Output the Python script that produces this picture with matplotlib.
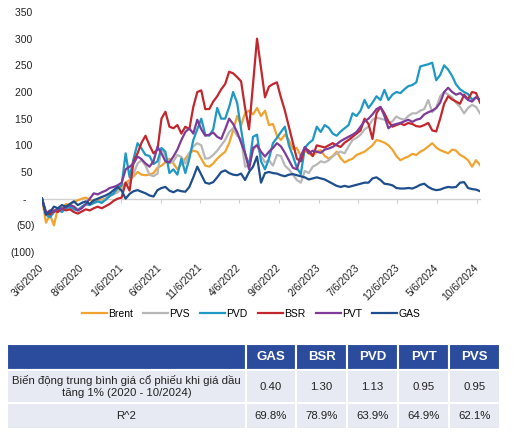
import matplotlib
matplotlib.use("Agg")
import matplotlib.pyplot as plt
import pandas as pd

plt.rcParams["font.family"] = ["Liberation Sans", "DejaVu Sans"]

# --- du lieu (doc tu bieu do, % thay doi tu 3/6/2020, ~2 diem/thang) ---
start_date = "2020-03-06"
end_date = "2024-10-19"
n_points = 111

brent = [0, -45, -30, -50, -18, -20, -10, -12, -6, -3, 0, 2, -2, -5, -3, -2, 0, 5, 10, 18,
         22, 30, 35, 42, 50, 45, 44, 45, 48, 58, 62, 68, 75, 66, 55, 65, 75, 85, 90, 88,
         75, 62, 60, 66, 75, 82, 88, 104, 128, 155, 138, 160, 165, 158, 170, 155, 165, 138, 140, 118,
         110, 120, 110, 93, 95, 80, 90, 85, 80, 88, 91, 80, 75, 80, 88, 76, 68, 72, 75, 82,
         85, 88, 94, 100, 110, 108, 105, 100, 92, 80, 72, 76, 79, 84, 82, 88, 92, 98, 104, 96,
         91, 88, 85, 92, 90, 82, 78, 72, 60, 72, 63]
pvs = [0, -28, -30, -22, -20, -18, -15, -18, -14, -20, -16, -12, -10, -8, -6, -5, 0, 5, 8, 12,
       18, 25, 30, 47, 66, 72, 62, 45, 42, 47, 95, 80, 66, 70, 82, 78, 66, 85, 98, 104,
       100, 75, 76, 82, 90, 100, 110, 125, 132, 118, 112, 60, 62, 90, 102, 80, 68, 72, 62, 82,
       80, 62, 55, 45, 35, 30, 52, 48, 60, 64, 70, 68, 72, 79, 85, 88, 85, 98, 110, 114,
       120, 130, 135, 148, 152, 150, 148, 142, 145, 154, 150, 148, 155, 160, 160, 165, 168, 185, 162, 170,
       192, 200, 195, 190, 180, 172, 160, 170, 176, 172, 160]
pvd = [0, -30, -35, -25, -20, -25, -18, -15, -20, -22, -15, -10, -12, -8, -5, -8, -2, 5, 10, 20,
       25, 85, 40, 75, 104, 94, 82, 80, 65, 70, 95, 88, 48, 55, 45, 75, 48, 75, 110, 130,
       150, 120, 118, 130, 170, 150, 150, 172, 200, 180, 130, 85, 62, 116, 120, 70, 55, 75, 104, 114,
       125, 135, 100, 80, 58, 46, 95, 104, 110, 135, 125, 138, 133, 122, 118, 126, 132, 138, 160, 155,
       165, 185, 170, 180, 192, 185, 204, 185, 195, 200, 198, 205, 211, 213, 218, 248, 250, 252, 255, 222,
       232, 250, 242, 230, 214, 205, 200, 196, 186, 190, 186]
bsr = [0, -25, -30, -22, -25, -18, -22, -20, -25, -28, -24, -20, -22, -18, -15, -18, -14, -10, -4, 0,
       2, 30, 15, 70, 85, 105, 118, 100, 85, 92, 150, 163, 135, 132, 138, 122, 135, 130, 172, 200,
       203, 168, 168, 182, 192, 205, 215, 238, 235, 228, 220, 170, 130, 215, 300, 245, 190, 210, 215, 218,
       190, 165, 135, 105, 75, 70, 95, 90, 80, 100, 98, 96, 100, 104, 100, 97, 105, 110, 116, 122,
       128, 150, 140, 112, 160, 172, 160, 145, 135, 138, 141, 138, 142, 140, 136, 135, 138, 142, 128, 126,
       150, 178, 192, 186, 182, 178, 195, 186, 200, 198, 180]
pvt = [0, -28, -22, -25, -18, -20, -15, -12, -15, -22, -18, -10, 0, 10, 8, 12, 15, 20, 22, 25,
       30, 55, 60, 66, 79, 74, 66, 60, 70, 97, 85, 70, 68, 79, 92, 110, 125, 132, 122, 148,
       130, 118, 120, 124, 116, 112, 130, 150, 140, 125, 105, 85, 55, 95, 100, 88, 79, 88, 95, 104,
       98, 86, 72, 58, 55, 80, 97, 85, 90, 88, 86, 92, 94, 97, 102, 108, 112, 116, 120, 125,
       135, 145, 150, 158, 168, 172, 155, 132, 138, 140, 142, 145, 148, 144, 148, 150, 158, 162, 165, 170,
       180, 200, 208, 200, 195, 198, 192, 185, 182, 190, 185]
gas = [0, -30, -25, -15, -18, -12, -15, -10, -5, -12, -8, -5, -10, -3, 0, 3, 6, 10, 16, 22,
       15, 0, 9, 14, 16, 13, 10, 6, 4, 16, 20, 22, 15, 12, 16, 14, 13, 22, 40, 60,
       45, 30, 28, 31, 40, 50, 53, 48, 45, 44, 47, 35, 50, 60, 79, 30, 48, 50, 48, 47,
       44, 42, 45, 46, 44, 42, 40, 36, 38, 40, 38, 36, 32, 28, 24, 22, 24, 22, 24, 26,
       28, 30, 30, 38, 40, 35, 28, 27, 25, 20, 19, 19, 20, 19, 22, 26, 28, 22, 18, 16,
       17, 20, 22, 21, 22, 30, 31, 20, 18, 17, 14]

series_names = ["Brent", "PVS", "PVD", "BSR", "PVT", "GAS"]
series_colors = ["#F2A32F", "#B7B7B7", "#1E98C4", "#C1272D", "#7E3C98", "#1F4E8C"]

ytick_values = [-100, -50, 0, 50, 100, 150, 200, 250, 300, 350]
ytick_labels = ["(100)", "(50)", "-   ", "50 ", "100 ", "150 ", "200 ", "250 ", "300 ", "350 "]

# bang he so
table_cols = ["", "GAS", "BSR", "PVD", "PVT", "PVS"]
row_beta_label = "Biến động trung bình giá cổ phiếu khi giá dầu\ntăng 1% (2020 - 10/2024)"
row_beta = ["0.40", "1.30", "1.13", "0.95", "0.95"]
row_r2_label = "R^2"
row_r2 = ["69.8%", "78.9%", "63.9%", "64.9%", "62.1%"]

# --- ve ---
dates = pd.date_range(start_date, end_date, periods=n_points)
tick_dates = [pd.Timestamp(start_date) + pd.DateOffset(months=5 * k) for k in range(12)]
tick_labels = [f"{d.month}/{d.day}/{d.year}" for d in tick_dates]

fs = 7.5
fig = plt.figure(figsize=(5.22, 4.34), dpi=100)
ax = fig.add_axes([42 / 522, 1 - 252 / 434, 438 / 522, 240 / 434])

for name, vals, col in zip(series_names, [brent, pvs, pvd, bsr, pvt, gas], series_colors):
    ax.plot(dates, vals, color=col, lw=1.6, label=name, solid_joinstyle="round")

ax.set_xlim(dates[0], dates[-1])
ax.set_ylim(-100, 350)
ax.set_yticks(ytick_values)
ax.set_yticklabels(ytick_labels)
ax.set_xticks(tick_dates)
ax.set_xticklabels(tick_labels, rotation=45, ha="right", rotation_mode="anchor", va="center")
ax.tick_params(axis="both", length=0, labelsize=fs, colors="#222222")
ax.tick_params(axis="x", pad=10)
ax.tick_params(axis="y", pad=5)
for s in ax.spines.values():
    s.set_visible(False)

# truc hoanh o muc 0, co vach nho
zero_frac = (0 - ax.get_ylim()[0]) / (ax.get_ylim()[1] - ax.get_ylim()[0])
sec = ax.secondary_xaxis(zero_frac)
sec.set_xticks(tick_dates)
sec.tick_params(axis="x", direction="out", length=3, color="#D0D0D0", labelbottom=False)
sec.spines["bottom"].set_color("#D0D0D0")
sec.spines["bottom"].set_linewidth(1.0)

fig.legend(loc="center", bbox_to_anchor=(0.481, 1 - 314 / 434), ncol=6, frameon=False,
           fontsize=fs, handlelength=2.4, handletextpad=0.1, columnspacing=1.0)

# bang
tax = fig.add_axes([7 / 522, 1 - 429 / 434, 493 / 522, 85 / 434])
tax.axis("off")
cell_text = [table_cols, [row_beta_label] + row_beta, [row_r2_label] + row_r2]
col_w = [239, 50, 51, 51, 51, 51]
row_h = [26, 33, 26]
tbl = tax.table(cellText=cell_text, colWidths=[w / sum(col_w) for w in col_w],
                cellLoc="center", bbox=[0, 0, 1, 1])
tbl.auto_set_font_size(False)
for (r, c), cell in tbl.get_celld().items():
    cell.set_height(row_h[r] / sum(row_h))
    cell.set_edgecolor("white")
    cell.set_linewidth(1.5)
    if r == 0:
        cell.set_facecolor("#2B4C9C")
        cell.get_text().set_color("white")
        cell.get_text().set_fontweight("bold")
        cell.get_text().set_fontsize(9.5)
    else:
        cell.set_facecolor("#E7EAF2")
        cell.get_text().set_color("#222222")
        cell.get_text().set_fontsize(8.2)

fig.savefig("out.png", dpi=100)
